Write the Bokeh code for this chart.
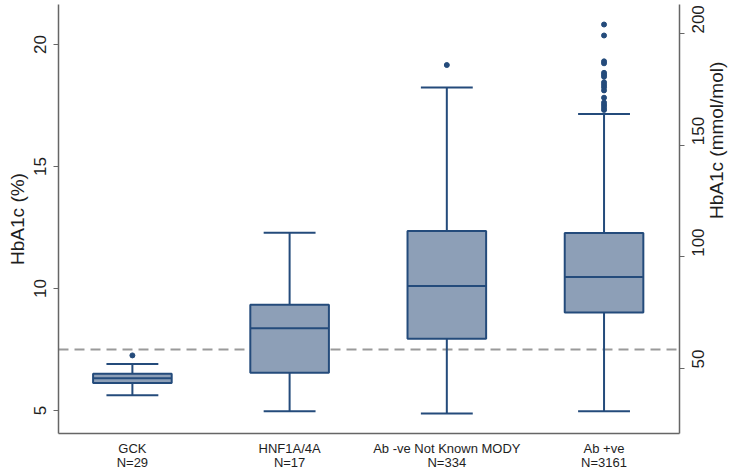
import math
from bokeh.plotting import figure
from bokeh.models import Range1d, LinearAxis, FixedTicker, Span
from bokeh.embed import file_html
from bokeh.resources import INLINE

# ---- data ----
categories = ["GCK", "HNF1A/4A", "Ab -ve Not Known MODY", "Ab +ve"]
counts = [29, 17, 334, 3161]
q1 = [6.13, 6.55, 7.94, 9.02]
median = [6.32, 8.37, 10.10, 10.47]
q3 = [6.51, 9.34, 12.36, 12.28]
lower = [5.63, 4.97, 4.88, 4.97]
upper = [6.91, 12.29, 18.24, 17.15]
outlier_group = [0, 2] + [3] * 16
outlier_value = [7.26, 19.16,
                 20.82, 20.37, 19.31, 19.23, 18.84, 18.76, 18.68, 18.45,
                 18.35, 18.25, 18.12, 17.82, 17.62, 17.52, 17.42, 17.32]
threshold_pct = 7.5
pct_ticks = [5, 10, 15, 20]
mmol_ticks = [50, 100, 150, 200]
y_start, y_end = 4.06, 21.64


def to_mmol(p):
    return 10.929 * p - 23.5


BOX_FILL = "#8d9fb7"
BOX_LINE = "#244b7b"
AXIS_COL = "#666666"
TEXT_COL = "#1e1e1e"
FONT = "Liberation Sans"

xs = [i + 1 for i in range(len(categories))]
half_box = 0.25
half_cap = 0.165

p = figure(width=742, height=472, output_backend="svg", toolbar_location=None,
           x_range=Range1d(0.53, 4.48), y_range=Range1d(y_start, y_end),
           min_border_left=58, min_border_right=63, min_border_top=4,
           min_border_bottom=38)
p.extra_y_ranges = {"mmol": Range1d(to_mmol(y_start), to_mmol(y_end))}
p.outline_line_color = None
p.xgrid.visible = False
p.ygrid.visible = False
p.background_fill_color = "white"
p.border_fill_color = "white"

thr = Span(location=threshold_pct, dimension="width", line_color="#9a9a9a",
           line_dash="10 6", line_width=2, level="underlay")
p.add_layout(thr)

# whisker stems
p.segment(x0=xs, x1=xs, y0=q3, y1=upper, line_color=BOX_LINE, line_width=2)
p.segment(x0=xs, x1=xs, y0=q1, y1=lower, line_color=BOX_LINE, line_width=2)
# caps
p.segment(x0=[x - half_cap for x in xs], x1=[x + half_cap for x in xs],
          y0=upper, y1=upper, line_color=BOX_LINE, line_width=2)
p.segment(x0=[x - half_cap for x in xs], x1=[x + half_cap for x in xs],
          y0=lower, y1=lower, line_color=BOX_LINE, line_width=2)
# boxes
p.vbar(x=xs, width=2 * half_box, bottom=q1, top=q3, fill_color=BOX_FILL,
       line_color=BOX_LINE, line_width=2)
# medians
p.segment(x0=[x - half_box for x in xs], x1=[x + half_box for x in xs],
          y0=median, y1=median, line_color=BOX_LINE, line_width=2)
# outliers
p.scatter(x=[xs[g] for g in outlier_group], y=outlier_value, size=5,
          fill_color=BOX_LINE, line_color=BOX_LINE)


def style_x(ax, labels, standoff):
    ax.ticker = FixedTicker(ticks=xs)
    ax.major_label_overrides = {x: t for x, t in zip(xs, labels)}
    ax.major_tick_line_color = None
    ax.major_tick_out = 0
    ax.major_tick_in = 0
    ax.minor_tick_line_color = None
    ax.minor_tick_out = 0
    ax.minor_tick_in = 0
    ax.axis_label_standoff = 0
    ax.major_label_text_font = FONT
    ax.major_label_text_font_size = "13px"
    ax.major_label_text_color = TEXT_COL
    ax.major_label_standoff = standoff


# x axis: category names
xa = p.xaxis[0]
style_x(xa, categories, 7)
xa.axis_line_color = AXIS_COL
xa.axis_line_width = 1.5
# second line: group sizes
xa2 = LinearAxis()
style_x(xa2, [f"N={n}" for n in counts], -4)
xa2.axis_line_color = None
p.add_layout(xa2, "below")


def style_y(ax):
    ax.minor_tick_line_color = None
    ax.minor_tick_out = 0
    ax.axis_line_color = AXIS_COL
    ax.axis_line_width = 1.5
    ax.major_tick_line_color = AXIS_COL
    ax.major_tick_out = 5
    ax.major_tick_in = 0
    ax.major_label_text_font = FONT
    ax.major_label_text_font_size = "17px"
    ax.major_label_text_color = TEXT_COL
    ax.axis_label_text_font = FONT
    ax.axis_label_text_font_size = "19px"
    ax.axis_label_text_font_style = "normal"
    ax.axis_label_text_color = TEXT_COL


# left axis
ya = p.yaxis[0]
ya.ticker = FixedTicker(ticks=pct_ticks)
ya.axis_label = "HbA1c (%)"
style_y(ya)
ya.major_label_orientation = "vertical"
ya.major_label_standoff = 7
ya.axis_label_standoff = 4

# right axis (labels read bottom-to-top)
ra = LinearAxis(y_range_name="mmol", ticker=FixedTicker(ticks=mmol_ticks),
                axis_label="HbA1c (mmol/mol)")
style_y(ra)
ra.major_label_orientation = math.pi / 2
ra.major_label_standoff = 14
ra.axis_label_orientation = math.pi / 2
ra.axis_label_standoff = 3
p.add_layout(ra, "right")

open("out.html", "w").write(file_html(p, INLINE))
